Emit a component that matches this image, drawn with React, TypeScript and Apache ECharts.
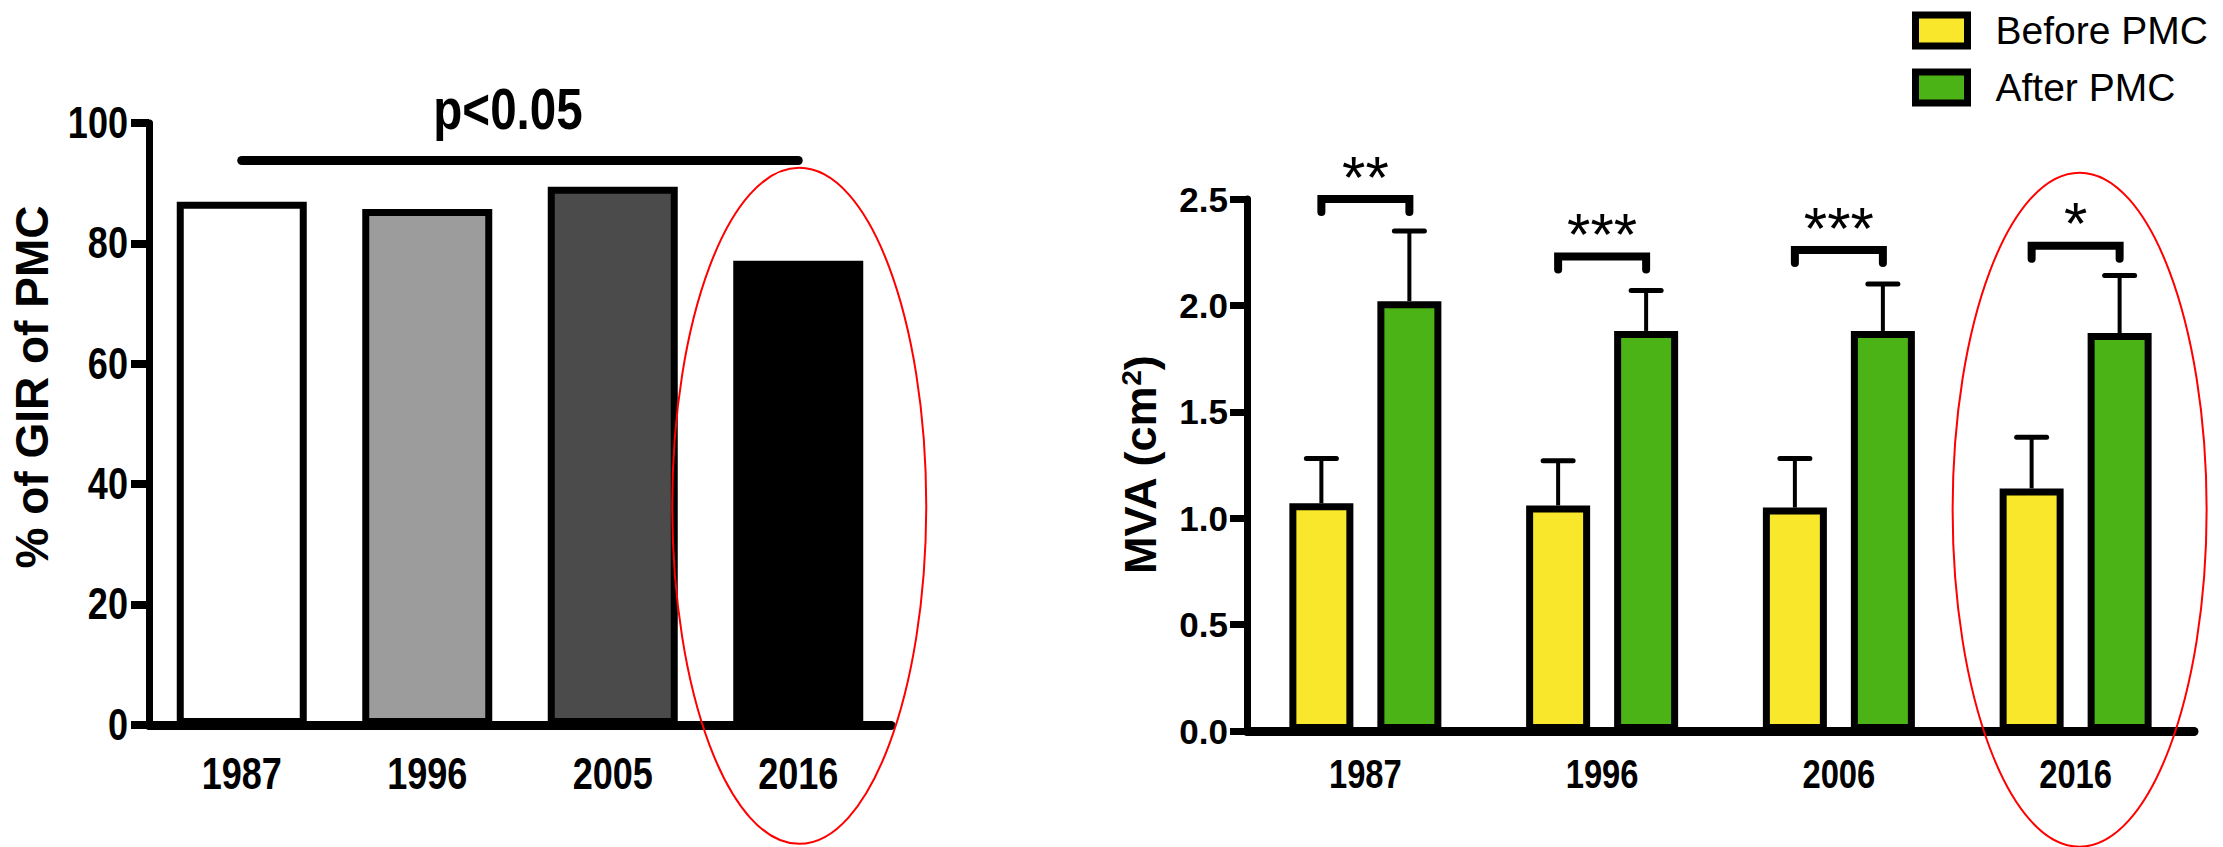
import React, { useEffect, useRef } from "react";
import * as echarts from "echarts";

// ---------- data ----------
const LEFT_YEARS = ["1987", "1996", "2005", "2016"];
const LEFT_VALUES = [86.9, 85.7, 89.4, 77.1];
const LEFT_COLORS = ["#ffffff", "#9c9c9c", "#4b4b4b", "#000000"];
const LEFT_Y_TICKS = { min: 0, max: 100, interval: 20 };
const OVERALL_SIG_TEXT = "p<0.05";
const OVERALL_SIG_LEVEL = 93.8;

const RIGHT_YEARS = ["1987", "1996", "2006", "2016"];
const BEFORE_MEAN = [1.07, 1.06, 1.05, 1.14];
const BEFORE_TOP = [1.28, 1.27, 1.28, 1.38];
const AFTER_MEAN = [2.02, 1.88, 1.88, 1.87];
const AFTER_TOP = [2.35, 2.07, 2.1, 2.14];
const SIG_LEVEL = [2.5, 2.23, 2.26, 2.28];
const SIG_LABEL = ["**", "***", "***", "*"];
const RIGHT_Y_TICKS = { min: 0, max: 2.5, interval: 0.5 };
const SERIES_NAMES = ["Before PMC", "After PMC"];

// ---------- style ----------
const ARIAL = "'Liberation Sans', Arial, Helvetica, sans-serif";
const YELLOW = "#f8e72b";
const GREEN = "#4cb316";
const BAR_W = 64;
const BAR_GAP = 0.375;
const OFF = (BAR_W * (1 + BAR_GAP)) / 2;
const NARROW_SCALE = 0.82;

function errRender(sign: number) {
  return (params: any, api: any) => {
    const idx = api.value(0);
    const p0 = api.coord([idx, api.value(1)]);
    const p1 = api.coord([idx, api.value(2)]);
    const x = p0[0] + sign * OFF;
    return {
      type: "group",
      children: [
        { type: "line", shape: { x1: x, y1: p0[1], x2: x, y2: p1[1] }, style: { stroke: "#000", lineWidth: 4 } },
        { type: "line", shape: { x1: x - 15, y1: p1[1], x2: x + 15, y2: p1[1] }, style: { stroke: "#000", lineWidth: 5, lineCap: "round" } },
      ],
    };
  };
}

function bracketRender(params: any, api: any) {
  const idx = api.value(0);
  const p = api.coord([idx, api.value(1)]);
  const xL = p[0] - OFF;
  const xR = p[0] + OFF;
  const y = p[1];
  return {
    type: "group",
    children: [
      {
        type: "polyline",
        shape: { points: [[xL, y + 13], [xL, y], [xR, y], [xR, y + 13]] },
        style: { stroke: "#000", lineWidth: 8, fill: "none", lineCap: "round", lineJoin: "miter" },
      },
      {
        type: "text",
        x: (xL + xR) / 2,
        y: y - 22,
        style: {
          text: SIG_LABEL[idx],
          fill: "#000",
          fontSize: 60,
          fontFamily: ARIAL,
          fontWeight: "normal",
          align: "center",
          verticalAlign: "middle",
        },
      },
    ],
  };
}

function narrowText(text: string, x: number, y: number, size: number, align: string) {
  return {
    type: "text",
    x,
    y,
    z: 50,
    silent: true,
    scaleX: NARROW_SCALE,
    style: { text, fill: "#000", fontSize: size, fontWeight: "bold", fontFamily: ARIAL, align, verticalAlign: "middle" },
  };
}

export default function App() {
  const ref = useRef<HTMLDivElement>(null);
  useEffect(() => {
    if (!ref.current) return;
    const chart = echarts.init(ref.current, null, { renderer: "svg" });
    const option: any = {
      animation: false,
      backgroundColor: "#fff",
      grid: [
        { left: 149, top: 123, width: 742, height: 602 },
        { left: 1247, top: 199, width: 947, height: 532 },
      ],
      legend: {
        data: SERIES_NAMES,
        orient: "vertical",
        left: 1907,
        top: 6,
        itemWidth: 52,
        itemHeight: 31,
        itemGap: 18,
        icon: "rect",
        selectedMode: false,
        itemStyle: { borderColor: "#000", borderWidth: 7 },
        textStyle: { fontSize: 39, fontFamily: ARIAL, color: "#000", padding: [0, 0, 0, 23], lineHeight: 31 },
      },
      xAxis: [
        {
          type: "category",
          gridIndex: 0,
          data: LEFT_YEARS,
          axisLine: { lineStyle: { color: "#000", width: 9 } },
          axisTick: { alignWithLabel: true, length: 20, lineStyle: { color: "#000", width: 7 } },
          axisLabel: { show: false },
          splitLine: { show: false },
        },
        {
          type: "category",
          gridIndex: 1,
          data: RIGHT_YEARS,
          axisLine: { lineStyle: { color: "#000", width: 9 } },
          axisTick: { alignWithLabel: true, length: 20, lineStyle: { color: "#000", width: 7 } },
          axisLabel: { show: false },
          splitLine: { show: false },
        },
      ],
      yAxis: [
        {
          type: "value",
          gridIndex: 0,
          ...LEFT_Y_TICKS,
          name: "% of GIR of PMC",
          nameLocation: "middle",
          nameRotate: 90,
          nameGap: 94,
          nameTextStyle: { fontSize: 46, fontWeight: "bold", fontFamily: ARIAL, color: "#000", padding: [0, 0, 0, 74] },
          axisLine: { show: true, lineStyle: { color: "#000", width: 7 } },
          axisTick: { show: true, length: 18, lineStyle: { color: "#000", width: 8 } },
          axisLabel: { show: false },
          splitLine: { show: false },
        },
        {
          type: "value",
          gridIndex: 1,
          ...RIGHT_Y_TICKS,
          name: "MVA (cm{sup|2})",
          nameLocation: "middle",
          nameRotate: 90,
          nameGap: 84,
          nameTextStyle: {
            fontSize: 45,
            fontWeight: "bold",
            fontFamily: ARIAL,
            color: "#000",
            lineHeight: 46,
            rich: { sup: { fontSize: 28, fontWeight: "bold", fontFamily: ARIAL, color: "#000", verticalAlign: "top", lineHeight: 46 } },
          },
          axisLine: { show: true, lineStyle: { color: "#000", width: 7 } },
          axisTick: { show: true, length: 17, lineStyle: { color: "#000", width: 7 } },
          axisLabel: { color: "#000", fontFamily: ARIAL, fontWeight: "bold", fontSize: 35, margin: 19, formatter: (v: number) => v.toFixed(1) },
          splitLine: { show: false },
        },
      ],
      series: [
        {
          type: "bar",
          xAxisIndex: 0,
          yAxisIndex: 0,
          barWidth: 130,
          data: LEFT_VALUES.map((v, i) => ({ value: v, itemStyle: { color: LEFT_COLORS[i] } })),
          itemStyle: { borderColor: "#000", borderWidth: 7 },
          z: 3,
          markLine: {
            silent: true,
            symbol: ["none", "none"],
            lineStyle: { color: "#000", width: 9, type: "solid", cap: "round" },
            label: { show: false },
            data: [[{ coord: [LEFT_YEARS[0], OVERALL_SIG_LEVEL] }, { coord: [LEFT_YEARS[3], OVERALL_SIG_LEVEL] }]],
          },
        },
        {
          type: "custom",
          xAxisIndex: 1,
          yAxisIndex: 1,
          renderItem: errRender(-1),
          data: BEFORE_MEAN.map((m, i) => [i, m, BEFORE_TOP[i]]),
          encode: { x: 0, y: [1, 2] },
          z: 1,
          silent: true,
        },
        {
          type: "custom",
          xAxisIndex: 1,
          yAxisIndex: 1,
          renderItem: errRender(1),
          data: AFTER_MEAN.map((m, i) => [i, m, AFTER_TOP[i]]),
          encode: { x: 0, y: [1, 2] },
          z: 1,
          silent: true,
        },
        {
          type: "bar",
          name: SERIES_NAMES[0],
          xAxisIndex: 1,
          yAxisIndex: 1,
          barWidth: BAR_W,
          barGap: `${BAR_GAP * 100}%`,
          data: BEFORE_MEAN,
          itemStyle: { color: YELLOW, borderColor: "#000", borderWidth: 7 },
          z: 3,
        },
        {
          type: "bar",
          name: SERIES_NAMES[1],
          xAxisIndex: 1,
          yAxisIndex: 1,
          barWidth: BAR_W,
          barGap: `${BAR_GAP * 100}%`,
          data: AFTER_MEAN,
          itemStyle: { color: GREEN, borderColor: "#000", borderWidth: 7 },
          z: 3,
        },
        {
          type: "custom",
          xAxisIndex: 1,
          yAxisIndex: 1,
          renderItem: bracketRender,
          data: SIG_LEVEL.map((l, i) => [i, l]),
          encode: { x: 0, y: 1 },
          z: 4,
          silent: true,
        },
      ],
    };
    chart.setOption(option);

    const px = (finder: any, v: any) => chart.convertToPixel(finder, v) as unknown as number;
    const graphics: any[] = [];

    // left chart tick labels (condensed bold, like the original)
    const leftAxisY = px({ yAxisIndex: 0 }, 0);
    const leftAxisX = 149;
    LEFT_YEARS.forEach((yr) => graphics.push(narrowText(yr, px({ xAxisIndex: 0 }, yr), leftAxisY + 49, 44, "center")));
    for (let v = LEFT_Y_TICKS.min; v <= LEFT_Y_TICKS.max; v += LEFT_Y_TICKS.interval) {
      graphics.push(narrowText(String(v), leftAxisX - 21, px({ yAxisIndex: 0 }, v), 44, "right"));
    }
    // right chart category labels
    const rightAxisY = px({ yAxisIndex: 1 }, 0);
    RIGHT_YEARS.forEach((yr) => graphics.push(narrowText(yr, px({ xAxisIndex: 1 }, yr), rightAxisY + 43, 40, "center")));

    // overall significance text above the line
    const sigX = (px({ xAxisIndex: 0 }, LEFT_YEARS[0]) + px({ xAxisIndex: 0 }, LEFT_YEARS[3])) / 2 - 12;
    const sigY = px({ yAxisIndex: 0 }, OVERALL_SIG_LEVEL);
    graphics.push(narrowText(OVERALL_SIG_TEXT, sigX, sigY - 52, 58, "center"));

    // red highlight ellipses around the 2016 groups
    const lx = px({ xAxisIndex: 0 }, LEFT_YEARS[3]);
    const ly = px({ yAxisIndex: 0 }, 36.4);
    const rx = px({ xAxisIndex: 1 }, RIGHT_YEARS[3]);
    const ry = px({ yAxisIndex: 1 }, 1.04);
    graphics.push(
      { type: "ellipse", z: 100, silent: true, shape: { cx: lx + 1, cy: ly, rx: 127, ry: 338 }, style: { fill: "none", stroke: "#ff0000", lineWidth: 2 } },
      { type: "ellipse", z: 100, silent: true, shape: { cx: rx + 4, cy: ry, rx: 127, ry: 337 }, style: { fill: "none", stroke: "#ff0000", lineWidth: 2 } }
    );
    chart.setOption({ graphic: graphics });
    return () => chart.dispose();
  }, []);
  return <div ref={ref} style={{ position: "fixed", left: 0, top: 0, width: 2223, height: 847, background: "#fff" }} />;
}
